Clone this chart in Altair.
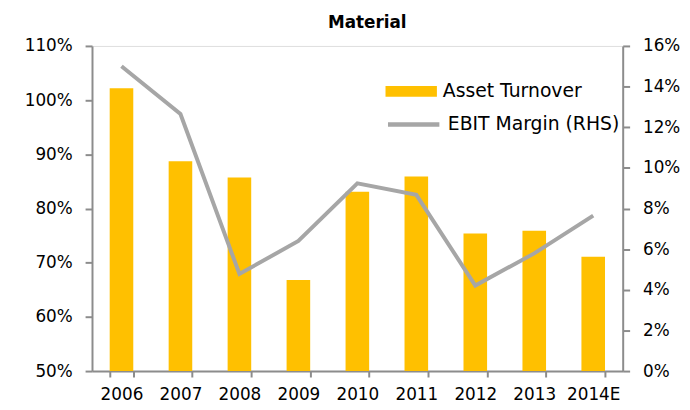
import altair as alt
import pandas as pd

years = ["2006", "2007", "2008", "2009", "2010", "2011", "2012", "2013", "2014E"]
asset_turnover = [1.022, 0.887, 0.857, 0.668, 0.831, 0.859, 0.754, 0.759, 0.711]
ebit_margin = [0.150, 0.1265, 0.0478, 0.064, 0.0924, 0.0867, 0.0421, 0.0579, 0.0765]

df = pd.DataFrame({
    "year": years,
    "turnover": asset_turnover,
    "margin": ebit_margin,
    "s1": ["Asset Turnover"] * len(years),
    "s2": ["EBIT Margin (RHS)"] * len(years),
})

FONT = "DejaVu Sans"
AXIS_COLOR = "#8c8c8c"
TICK_FS = 17
LEG_FS = 19

x = alt.X(
    "year:N",
    sort=years,
    title=None,
    scale=alt.Scale(paddingInner=0.6, paddingOuter=0.3),
    axis=alt.Axis(
        labelAngle=0, labelFontSize=TICK_FS, labelFont=FONT, labelColor="#000000",
        domainColor=AXIS_COLOR, domainWidth=2, tickColor=AXIS_COLOR, tickWidth=2,
        tickSize=6, tickBand="extent", labelPadding=10,
    ),
)

bars = alt.Chart(df).mark_bar(color="#FFC000", clip=True).encode(
    x=x,
    y=alt.Y(
        "turnover:Q", title=None,
        scale=alt.Scale(domain=[0.5, 1.1], nice=False, zero=False),
        axis=alt.Axis(
            format=".0%", values=[0.5, 0.6, 0.7, 0.8, 0.9, 1.0, 1.1],
            labelFontSize=TICK_FS, labelFont=FONT, labelColor="#000000",
            domainColor=AXIS_COLOR, domainWidth=2, tickColor=AXIS_COLOR,
            tickWidth=2, tickSize=7, labelPadding=13, grid=False,
        ),
    ),
    fill=alt.Fill(
        "s1:N", title=None,
        scale=alt.Scale(domain=["Asset Turnover"], range=["#FFC000"]),
        legend=alt.Legend(
            orient="none", legendX=297, legendY=20,
            symbolType="M-1,-0.21L1,-0.21L1,0.21L-1,0.21Z", symbolSize=2704,
            symbolStrokeWidth=0, labelFontSize=LEG_FS, labelFont=FONT,
            labelColor="#000000", labelOffset=6, labelLimit=400,
        ),
    ),
)

line = alt.Chart(df).mark_line(strokeWidth=4, color="#a6a6a6").encode(
    x=x,
    y=alt.Y(
        "margin:Q", title=None,
        scale=alt.Scale(domain=[0, 0.16], nice=False),
        axis=alt.Axis(
            orient="right", format=".0%",
            values=[0, 0.02, 0.04, 0.06, 0.08, 0.10, 0.12, 0.14, 0.16],
            labelFontSize=TICK_FS, labelFont=FONT, labelColor="#000000",
            domainColor=AXIS_COLOR, domainWidth=2, tickColor=AXIS_COLOR,
            tickWidth=2, tickSize=7, labelPadding=13, grid=False,
        ),
    ),
    stroke=alt.Stroke(
        "s2:N", title=None,
        scale=alt.Scale(domain=["EBIT Margin (RHS)"], range=["#a6a6a6"]),
        legend=alt.Legend(
            orient="none", legendX=297, legendY=51,
            symbolType="stroke", symbolSize=2704, symbolStrokeWidth=4.5,
            labelFontSize=LEG_FS, labelFont=FONT, labelColor="#000000",
            labelOffset=6, labelLimit=400,
        ),
    ),
)

chart = (
    alt.layer(bars, line)
    .resolve_scale(y="independent", fill="independent", stroke="independent")
    .properties(
        width=537,
        height=329,
        title=alt.TitleParams("Material", fontSize=17, font=FONT, fontWeight="bold",
                              anchor="middle", offset=5, dx=10, color="#000000"),
        autosize=alt.AutoSizeParams(type="none"),
        padding={"left": 85, "top": 36, "right": 60, "bottom": 37},
    )
    .configure_view(stroke=AXIS_COLOR, strokeWidth=2)
    .configure(background="#ffffff")
)

chart.save("out.html", embed_options={"renderer": "svg", "actions": False})
